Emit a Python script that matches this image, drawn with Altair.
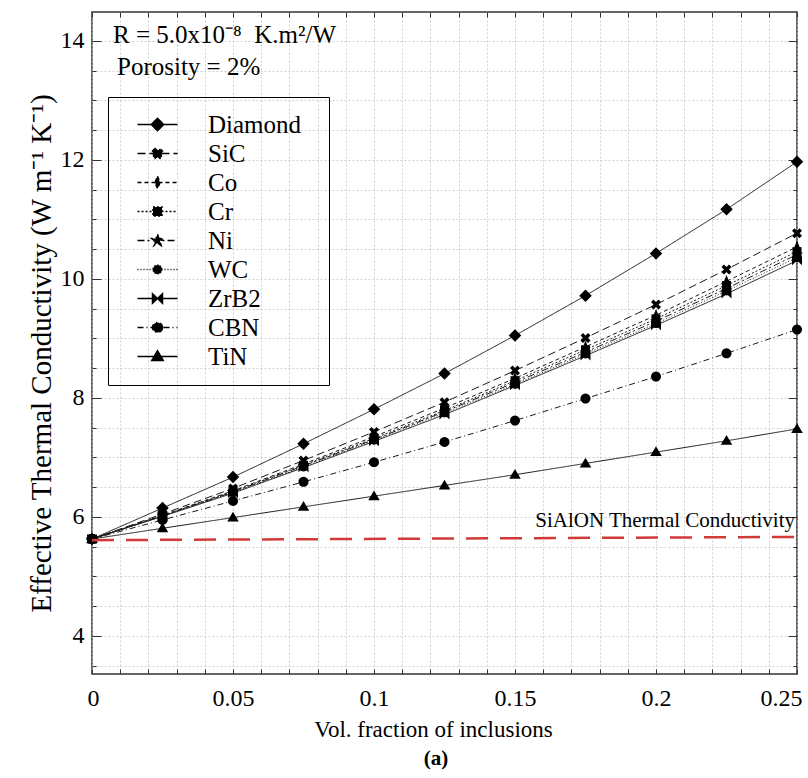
import math
import altair as alt
import pandas as pd

# ---------------- data ----------------
vol_fraction = [0, 0.025, 0.05, 0.075, 0.1, 0.125, 0.15, 0.175, 0.2, 0.225, 0.25]
series_names = ["Diamond", "SiC", "Co", "Cr", "Ni", "WC", "ZrB2", "CBN", "TiN"]
k_diamond = [5.63, 6.15, 6.67, 7.23, 7.81, 8.41, 9.05, 9.72, 10.43, 11.17, 11.97]
k_sic = [5.63, 6.05, 6.48, 6.95, 7.43, 7.93, 8.46, 9.01, 9.57, 10.16, 10.77]
k_co = [5.63, 6.03, 6.44, 6.89, 7.35, 7.83, 8.33, 8.86, 9.39, 9.96, 10.54]
k_cr = [5.63, 6.02, 6.43, 6.87, 7.32, 7.79, 8.29, 8.81, 9.33, 9.89, 10.46]
k_ni = [5.63, 6.02, 6.42, 6.86, 7.30, 7.77, 8.26, 8.77, 9.29, 9.84, 10.41]
k_wc = [5.63, 6.02, 6.41, 6.84, 7.29, 7.75, 8.23, 8.74, 9.25, 9.80, 10.36]
k_zrb2 = [5.63, 6.01, 6.40, 6.83, 7.27, 7.72, 8.21, 8.71, 9.22, 9.75, 10.31]
k_cbn = [5.63, 5.95, 6.27, 6.59, 6.92, 7.26, 7.62, 7.99, 8.36, 8.75, 9.15]
k_tin = [5.63, 5.81, 5.99, 6.17, 6.35, 6.53, 6.71, 6.90, 7.09, 7.28, 7.48]

sialon_x = [0, 0.25]
sialon_k = [5.61, 5.665]
sialon_label = ["SiAlON Thermal Conductivity"]
sialon_label_x = [0.25]
sialon_label_k = [5.83]

x_minor_ticks = [0.00, 0.01, 0.02, 0.03, 0.04, 0.05, 0.06, 0.07, 0.08, 0.09, 0.10,
                 0.11, 0.12, 0.13, 0.14, 0.15, 0.16, 0.17, 0.18, 0.19, 0.20,
                 0.21, 0.22, 0.23, 0.24, 0.25]
y_major_ticks = [4, 6, 8, 10, 12, 14]
y_minor_ticks = [3.5, 4.0, 4.5, 5.0, 5.5, 6.0, 6.5, 7.0, 7.5, 8.0, 8.5, 9.0, 9.5,
                 10.0, 10.5, 11.0, 11.5, 12.0, 12.5, 13.0, 13.5, 14.0]

annot_r = ["R = 5.0x10\u207b\u2078\u00a0 K.m\u00b2/W"]
annot_p = ["Porosity = 2%"]
panel_tag = ["(a)"]

x_title = "Vol. fraction of inclusions"
y_title = "Effective Thermal Conductivity (W m\u207b\u00b9 K\u207b\u00b9)"

# ---------------- tables ----------------
all_series = [k_diamond, k_sic, k_co, k_cr, k_ni, k_wc, k_zrb2, k_cbn, k_tin]
rows = []
for name, vals in zip(series_names, all_series):
    for xv, kv in zip(vol_fraction, vals):
        rows.append({"series": name, "x": xv, "k": kv})
df = pd.DataFrame(rows)
sialon_df = pd.DataFrame({"x": sialon_x, "k": sialon_k})
label_df = pd.DataFrame({"x": sialon_label_x, "k": sialon_label_k, "label": sialon_label})

# ---------------- styles ----------------
FONT = "Liberation Serif, Times New Roman, serif"
dash_range = [[1, 0], [8, 4], [4, 3], [2, 2], [7, 3, 2, 3], [1, 2], [1, 0], [6, 3, 1, 3], [1, 0]]


def poly(pts, s=1.0):
    return "M" + "L".join(f"{px * s:.3f},{py * s:.3f}" for px, py in pts) + "Z"


def circle_pts(r, n=24):
    return [(r * math.cos(2 * math.pi * i / n), r * math.sin(2 * math.pi * i / n)) for i in range(n)]


def star_pts(ro, ri):
    pts = []
    for i in range(10):
        r = ro if i % 2 == 0 else ri
        a = -math.pi / 2 + i * math.pi / 5
        pts.append((r * math.cos(a), r * math.sin(a)))
    return pts


marker_polys = [
    [[(0, -1.25), (1.25, 0), (0, 1.25), (-1.25, 0)]],                       # Diamond
    [[(-1, -0.5), (-0.5, -1), (0, -0.5), (0.5, -1), (1, -0.5), (0.5, 0),
      (1, 0.5), (0.5, 1), (0, 0.5), (-0.5, 1), (-1, 0.5), (-0.5, 0)]],        # SiC
    [[(0, -1.25), (0.5, 0), (0, 1.25), (-0.5, 0)]],                          # Co
    [[(-0.9, -0.9), (0.9, -0.9), (0.9, 0.9), (-0.9, 0.9)]],                  # Cr
    [star_pts(1.25, 0.5)],                                                    # Ni
    [circle_pts(0.9)],                                                        # WC
    [[(-1, -0.95), (0, 0), (-1, 0.95)], [(1, -0.95), (0, 0), (1, 0.95)]],     # ZrB2
    [circle_pts(1.0)],                                                        # CBN
    [[(0, -1.15), (1.15, 0.8), (-1.15, 0.8)]],                               # TiN
]
plot_shapes = ["".join(poly(p) for p in m) for m in marker_polys]
legend_shapes = ["M-2,0L2,0" + "".join(poly(p, 0.5) for p in m) for m in marker_polys]

xs = alt.Scale(domain=[0, 0.25], nice=False, zero=False)
ys = alt.Scale(domain=[3.361, 14.487], nice=False, zero=False)

GRID = dict(grid=True, gridColor="#c4c4c4", gridDash=[2, 2], gridWidth=0.8)
HIDE = dict(labels=False, domain=False, grid=False, title=None, tickColor="#333", tickWidth=1)

x_label_axis = alt.Axis(
    orient="bottom", values=x_minor_ticks,
    labelExpr="abs(round(datum.value * 100)) % 5 == 0 ? format(datum.value, '~g') : ''",
    title=x_title, ticks=False, domain=False, labelFont=FONT, labelFontSize=24,
    labelColor="black", labelPadding=12, labelFlush=True, labelFlushOffset=5,
    labelOverlap=False, titleFont=FONT, titleFontSize=23, titleFontWeight="normal",
    titleColor="black", titlePadding=8, titleX=341, titleAlign="center", **GRID)
y_label_axis = alt.Axis(
    orient="left", values=y_minor_ticks,
    labelExpr="round(datum.value * 2) % 4 == 0 ? format(datum.value, 'd') : ''",
    title=y_title, ticks=False, domain=False, labelFont=FONT, labelFontSize=24,
    labelColor="black", labelPadding=8, labelOverlap=False, titleFont=FONT,
    titleFontSize=29, titleFontWeight="normal", titleColor="black", titlePadding=4,
    titleY=341, titleAlign="center", **GRID)
x_tick_bottom = alt.Axis(orient="bottom", values=x_minor_ticks, offset=-5, tickSize=5, **HIDE)
x_tick_top = alt.Axis(orient="top", values=x_minor_ticks, offset=-5, tickSize=5, **HIDE)
y_major_left = alt.Axis(orient="left", values=y_major_ticks, offset=-9, tickSize=9, **HIDE)
y_minor_left = alt.Axis(orient="left", values=y_minor_ticks, offset=-4, tickSize=4, **HIDE)
y_major_right = alt.Axis(orient="right", values=y_major_ticks, offset=-9, tickSize=9, **HIDE)
y_minor_right = alt.Axis(orient="right", values=y_minor_ticks, offset=-4, tickSize=4, **HIDE)

legend_def = alt.Legend(
    orient="none", legendX=16, legendY=85, title=None, strokeColor="black",
    padding=15, symbolSize=400, symbolOffset=22, labelOffset=38, rowPadding=3,
    labelFont=FONT, labelFontSize=25, labelColor="black",
    labelExpr="datum.label + '\u00a0\u00a0\u200b'")

# ---------------- layers ----------------
lines = alt.Chart(df).mark_line(color="#1a1a1a", strokeWidth=1).encode(
    x=alt.X("x:Q", scale=xs, axis=x_label_axis),
    y=alt.Y("k:Q", scale=ys, axis=y_label_axis),
    strokeDash=alt.StrokeDash("series:N", scale=alt.Scale(domain=series_names, range=dash_range), legend=None),
)

points = alt.Chart(df).mark_point(filled=True, color="black", size=100, opacity=1).encode(
    x=alt.X("x:Q", scale=xs, axis=x_tick_bottom),
    y=alt.Y("k:Q", scale=ys, axis=y_major_left),
    shape=alt.Shape("series:N", scale=alt.Scale(domain=series_names, range=plot_shapes), legend=None),
)

sialon = alt.Chart(sialon_df).mark_line(color="#d23a3a", strokeWidth=2.5, strokeDash=[22, 12]).encode(
    x=alt.X("x:Q", scale=xs, axis=x_tick_top),
    y=alt.Y("k:Q", scale=ys, axis=y_minor_left),
)

sialon_text = alt.Chart(label_df).mark_text(
    align="right", baseline="alphabetic", dx=-2, font=FONT, fontSize=21, color="black"
).encode(
    x=alt.X("x:Q", scale=xs, axis=None),
    y=alt.Y("k:Q", scale=ys, axis=y_major_right),
    text="label:N",
)

legend_layer = alt.Chart(df).transform_filter("false").mark_point(
    filled=True, color="black", stroke="black", strokeWidth=1, size=400, opacity=1
).encode(
    y=alt.Y("k:Q", scale=ys, axis=y_minor_right),
    shape=alt.Shape("series:N", scale=alt.Scale(domain=series_names, range=legend_shapes), legend=legend_def),
    strokeDash=alt.StrokeDash("series:N", scale=alt.Scale(domain=series_names, range=dash_range), legend=legend_def),
)

ann_r = alt.Chart(pd.DataFrame({"t": annot_r})).mark_text(
    align="left", baseline="alphabetic", font=FONT, fontSize=25, color="black"
).encode(x=alt.value(21), y=alt.value(31), text="t:N")

ann_p = alt.Chart(pd.DataFrame({"t": annot_p})).mark_text(
    align="left", baseline="alphabetic", font=FONT, fontSize=25, color="black"
).encode(x=alt.value(25), y=alt.value(63), text="t:N")

ann_tag = alt.Chart(pd.DataFrame({"t": panel_tag})).mark_text(
    align="center", baseline="alphabetic", font=FONT, fontSize=21, fontWeight="bold", color="black"
).encode(x=alt.value(344), y=alt.value(753), text="t:N")

chart = alt.layer(
    lines, points, sialon, sialon_text, legend_layer, ann_r, ann_p, ann_tag
).resolve_scale(
    shape="independent", strokeDash="independent"
).resolve_axis(
    x="independent", y="independent"
).properties(
    width=705, height=662,
    autosize=alt.AutoSizeParams(type="none"),
    padding={"left": 92, "top": 12, "right": 11, "bottom": 104},
    background="white",
).configure_view(stroke="#333", strokeWidth=1.5)

chart.save("out.html", embed_options={"renderer": "svg", "actions": False})
